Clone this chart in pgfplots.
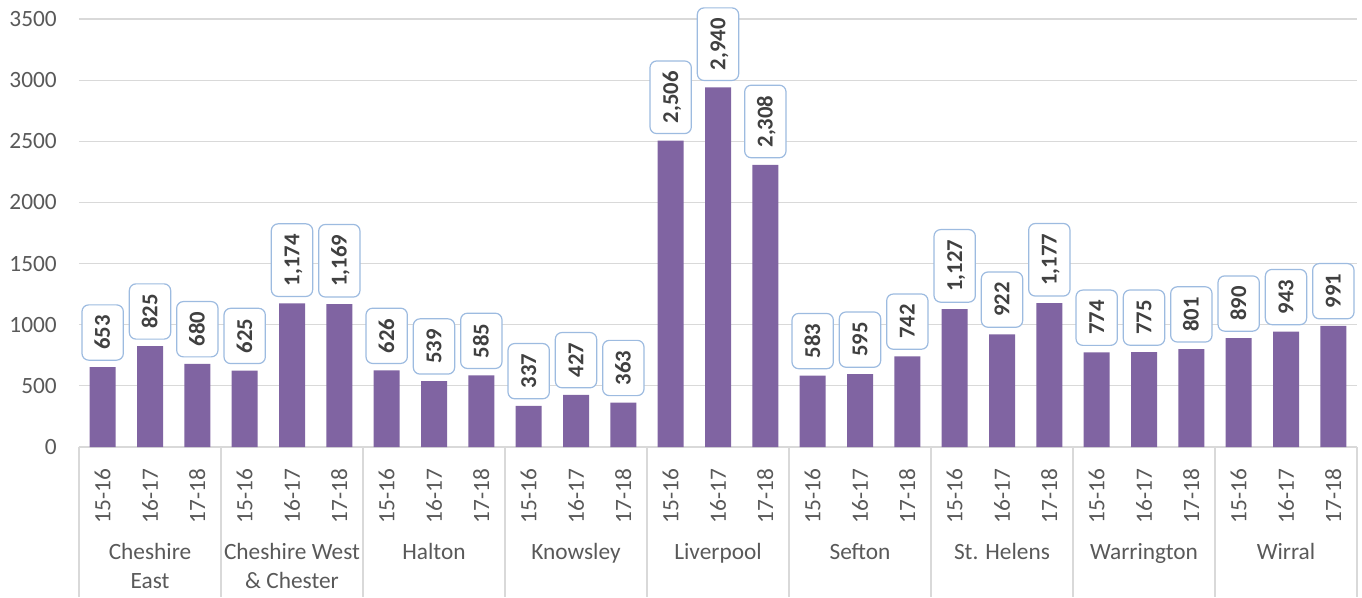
\documentclass[border=0pt]{standalone}
\usepackage{pgfplots}
\pgfplotsset{compat=1.18}
\usepackage{fontspec}
\setmainfont{Carlito}
\definecolor{barc}{HTML}{8064A2}
\definecolor{gridc}{HTML}{D9D9D9}
\definecolor{txtc}{HTML}{595959}
\definecolor{lblc}{HTML}{404040}
\definecolor{boxc}{HTML}{9DBBE0}
\begin{document}
\begin{tikzpicture}
\useasboundingbox (-59.25pt,-112.5pt) rectangle (962.25pt,335.25pt);
\begin{axis}[
  at={(0,0)}, anchor=south west,
  scale only axis, width=958.5pt, height=321pt,
  ybar, bar width=19.5pt,
  xmin=-0.5, xmax=26.5, ymin=0, ymax=3500,
  ytick={0,500,...,3500},
  xtick={0,...,26},
  xticklabels={15-16,16-17,17-18,15-16,16-17,17-18,15-16,16-17,17-18,15-16,16-17,17-18,15-16,16-17,17-18,15-16,16-17,17-18,15-16,16-17,17-18,15-16,16-17,17-18,15-16,16-17,17-18},
  axis x line*=bottom, axis y line*=left,
  x axis line style={draw=gridc, line width=0.9pt, -},
  y axis line style={draw=none},
  tick style={draw=none},
  ymajorgrids, grid style={draw=gridc, line width=0.9pt},
  /pgf/number format/assume math mode=true,
  /pgf/number format/1000 sep={},
  tick label style={font=\fontsize{17.5}{21}\selectfont, text=txtc},
  yticklabel style={inner xsep=0pt, xshift=-16.5pt},
  xticklabel style={rotate=90, anchor=east, inner xsep=12pt, inner ysep=0pt},
  clip=false,
  nodes near coords={\pgfmathprintnumber[1000 sep={,}]{\pgfplotspointmeta}},
  every node near coord/.append style={rotate=90, anchor=west, draw=boxc, line width=0.9pt, rounded corners=5pt, fill=white, font=\fontsize{17}{21}\selectfont\bfseries, text=lblc, inner xsep=7.8pt, inner ysep=10pt, text height=11pt, text depth=0pt, outer xsep=5.25pt},
]
\addplot[fill=barc, draw=none] coordinates {
(0,653) (1,825) (2,680) (3,625) (4,1174) (5,1169) (6,626) (7,539) (8,585)
(9,337) (10,427) (11,363) (12,2506) (13,2940) (14,2308) (15,583) (16,595) (17,742)
(18,1127) (19,922) (20,1177) (21,774) (22,775) (23,801) (24,890) (25,943) (26,991)};
\draw[gridc, line width=0.9pt] (axis cs:-0.5,0) -- ([yshift=-112.5pt]axis cs:-0.5,0);
\draw[gridc, line width=0.9pt] (axis cs:2.5,0) -- ([yshift=-112.5pt]axis cs:2.5,0);
\draw[gridc, line width=0.9pt] (axis cs:5.5,0) -- ([yshift=-112.5pt]axis cs:5.5,0);
\draw[gridc, line width=0.9pt] (axis cs:8.5,0) -- ([yshift=-112.5pt]axis cs:8.5,0);
\draw[gridc, line width=0.9pt] (axis cs:11.5,0) -- ([yshift=-112.5pt]axis cs:11.5,0);
\draw[gridc, line width=0.9pt] (axis cs:14.5,0) -- ([yshift=-112.5pt]axis cs:14.5,0);
\draw[gridc, line width=0.9pt] (axis cs:17.5,0) -- ([yshift=-112.5pt]axis cs:17.5,0);
\draw[gridc, line width=0.9pt] (axis cs:20.5,0) -- ([yshift=-112.5pt]axis cs:20.5,0);
\draw[gridc, line width=0.9pt] (axis cs:23.5,0) -- ([yshift=-112.5pt]axis cs:23.5,0);
\draw[gridc, line width=0.9pt] (axis cs:26.5,0) -- ([yshift=-112.5pt]axis cs:26.5,0);
\begin{scope}[every node/.style={font=\fontsize{17.5}{21}\selectfont, text=txtc, anchor=base, inner sep=0pt}]
\node at ([yshift=-84.4pt]axis cs:1,0) {Cheshire};
\node at ([yshift=-106.1pt]axis cs:1,0) {East};
\node at ([yshift=-84.4pt]axis cs:4,0) {Cheshire West};
\node at ([yshift=-106.1pt]axis cs:4,0) {\& Chester};
\node at ([yshift=-84.4pt]axis cs:7,0) {Halton};
\node at ([yshift=-84.4pt]axis cs:10,0) {Knowsley};
\node at ([yshift=-84.4pt]axis cs:13,0) {Liverpool};
\node at ([yshift=-84.4pt]axis cs:16,0) {Sefton};
\node at ([yshift=-84.4pt]axis cs:19,0) {St. Helens};
\node at ([yshift=-84.4pt]axis cs:22,0) {Warrington};
\node at ([yshift=-84.4pt]axis cs:25,0) {Wirral};
\end{scope}
\end{axis}
\end{tikzpicture}
\end{document}
